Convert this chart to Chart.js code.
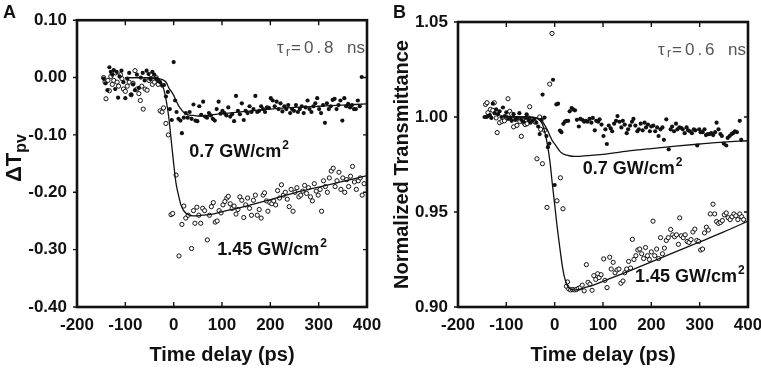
<!DOCTYPE html>
<html>
<head>
<meta charset="utf-8">
<script src="https://cdn.jsdelivr.net/npm/chart.js@4.4.1/dist/chart.umd.min.js"></script>
<style>
  html, body { margin: 0; padding: 0; background: #fff; }
  #wrap { position: relative; width: 761px; height: 371px; overflow: hidden; }
  canvas { position: absolute; top: 0; }
</style>
</head>
<body>
<div id="wrap">
  <canvas id="chartA" width="395" height="371" style="left:0"></canvas>
  <canvas id="chartB" width="395" height="371" style="left:380px"></canvas>
</div>
<script>
// ---------- panel A : photovoltaic signal ----------
const timeA_low = [-145,-141,-137,-133,-130,-127,-124,-121,-118,-115,-112,-108,-104,-100,-96,-92,-88,-84,-80,-76,-72,-68,-64,-60,-56,-52,-48,-44,-40,-36,-32,-28,-24,-20,-16,-12,-8,-4,0,3,6,10,14,17,21,25,29,33,37,41,45,49,53,57,61,65,69,73,77,81,85,89,93,97,101,105,109,113,117,121,125,129,133,137,141,145,149,153,157,161,165,169,173,177,181,185,189,193,197,201,205,209,213,217,221,225,229,233,237,241,245,249,253,257,261,265,269,273,277,281,285,289,293,297,301,305,309,313,317,321,325,329,333,337,341,345,349,353,357,361,365,369,373,377,381,385,389];
const dtA_low = [-0.002,-0.010,-0.022,0.018,0.010,0.005,0.013,-0.020,0.010,-0.035,0.002,0.012,-0.008,-0.036,-0.002,0.008,-0.030,-0.012,-0.022,0.005,-0.018,0.000,0.008,-0.005,0.012,0.006,-0.003,0.010,0.005,-0.002,-0.005,-0.008,-0.014,-0.013,-0.033,-0.025,-0.055,-0.074,0.027,-0.040,-0.060,-0.072,-0.075,-0.097,-0.070,-0.062,-0.070,-0.060,-0.072,-0.047,-0.075,-0.076,-0.050,-0.065,-0.042,-0.068,-0.070,-0.062,-0.066,-0.072,-0.075,-0.055,-0.042,-0.063,-0.058,-0.062,-0.066,-0.052,-0.068,-0.064,-0.076,-0.032,-0.058,-0.064,-0.045,-0.074,-0.058,-0.062,-0.050,-0.060,-0.055,-0.032,-0.060,-0.058,-0.050,-0.055,-0.060,-0.052,-0.053,-0.036,-0.040,-0.050,-0.042,-0.055,-0.045,-0.059,-0.050,-0.055,-0.048,-0.062,-0.055,-0.058,-0.048,-0.060,-0.055,-0.050,-0.062,-0.052,-0.040,-0.055,-0.060,-0.050,-0.045,-0.036,-0.055,-0.062,-0.048,-0.079,-0.045,-0.055,-0.050,-0.039,-0.037,-0.055,-0.048,-0.040,-0.075,-0.036,-0.050,-0.046,-0.052,-0.048,-0.055,-0.055,-0.040,-0.050,0.001];

const timeA_high = [-145,-142,-140,-136,-133,-130,-127,-124,-120,-117,-114,-110,-107,-104,-100,-96,-92,-88,-84,-80,-76,-72,-69,-66,-63,-59,-55,-51,-47,-44,-40,-36,-32,-28,-24,-21,-16,-11,-5.5,-2,5,11,17,21,25,30,37,41,44,48,52,56,60,64,69.6,74,78,82,86,90,94,98,102,106,110,113,117,121,125,129,133,137,141,145,149,153,157,161,165,169,173,177,181,185,188,192,195,199,203,207,211,215,219,223,227,231,235,239,243,247,251,255,259,263,267,271,275,279,283,287,291,295,299,303,306,310,314,318,322,326,330,334,338,342,346,350,354,358,362,366,370,374,378,382,386,390,394];
const dtA_high = [0.000,-0.008,-0.037,-0.005,-0.023,0.002,-0.012,-0.005,0.008,-0.008,-0.015,0.005,-0.002,-0.020,-0.024,-0.015,-0.008,-0.030,-0.010,0.012,-0.020,-0.028,-0.040,-0.015,-0.055,-0.020,-0.022,-0.005,0.005,-0.012,-0.008,0.000,-0.012,-0.058,-0.060,-0.053,-0.080,-0.100,-0.239,-0.237,-0.170,-0.311,-0.256,-0.224,-0.245,-0.240,-0.298,-0.232,-0.254,-0.226,-0.240,-0.254,-0.228,-0.232,-0.283,-0.240,-0.225,-0.218,-0.252,-0.250,-0.232,-0.236,-0.222,-0.216,-0.210,-0.207,-0.220,-0.228,-0.224,-0.238,-0.230,-0.208,-0.214,-0.244,-0.222,-0.210,-0.228,-0.240,-0.214,-0.205,-0.240,-0.230,-0.245,-0.205,-0.201,-0.215,-0.233,-0.218,-0.220,-0.215,-0.222,-0.197,-0.210,-0.187,-0.205,-0.200,-0.212,-0.225,-0.195,-0.233,-0.200,-0.192,-0.208,-0.205,-0.198,-0.188,-0.202,-0.192,-0.208,-0.215,-0.185,-0.198,-0.205,-0.195,-0.233,-0.180,-0.190,-0.200,-0.175,-0.163,-0.158,-0.190,-0.180,-0.165,-0.195,-0.175,-0.200,-0.178,-0.190,-0.172,-0.155,-0.182,-0.195,-0.180,-0.175,-0.205,-0.185];

// fitted curves
const fitTime = [-100,-60,-40,-30,-25,-20,-15,-10,-5,0,5,10,15,20,25,30,40,50,60,80,100,150,200,250,300,350,400];
const fitA_low = [0,0,-0.0005,-0.002,-0.003,-0.005,-0.009,-0.018,-0.024,-0.031,-0.040,-0.049,-0.055,-0.060,-0.063,-0.065,-0.066,-0.067,-0.067,-0.065,-0.063,-0.059,-0.055,-0.052,-0.050,-0.048,-0.046];
const fitA_high = [0,0,-0.002,-0.006,-0.010,-0.022,-0.042,-0.070,-0.110,-0.150,-0.185,-0.205,-0.222,-0.231,-0.236,-0.239,-0.241,-0.241,-0.240,-0.238,-0.234,-0.224,-0.213,-0.201,-0.191,-0.181,-0.171];

// ---------- panel B : normalized transmittance ----------
const timeB_low = [-145,-141,-138,-134,-131,-128,-124,-121,-117,-114,-110,-107,-103,-100,-96,-92,-89,-85,-81,-77,-73,-69,-65,-61,-58,-54,-50,-46,-42,-38,-34,-31,-27,-25,-21,-17,-14,-11,-3.4,0,3.6,7,11,14,18,21,24,28,31,35,38,42,46,50,53,57,61,64,68,72,76,79,83,86,90,93,97,101,105,108,112,116,119,123,127,130,134,138,141,145,149,152,156,160,163,167,171,174,178,182,186,189,193,197,200,204,208,212,215,219,223,226,231,236,240,243,247,251,254,258,262,265,269,273,276,280,284,288,291,295,299,302,306,310,313,317,321,324,328,332,335,339,343,346,350,355,358,362,366,369,373,377,383,386];
const trB_low = [1.000,1.000,1.0005,1.001,0.9995,1.007,1.002,1.004,1.0015,1.003,1.000,1.005,1.0005,1.0025,0.999,0.9995,0.998,1.0015,0.9985,0.9995,1.002,0.9985,0.9975,0.9995,1.0014,0.9985,0.997,0.998,0.999,0.997,0.995,0.991,0.9985,1.0118,0.9997,0.990,0.9841,0.986,1.0196,0.9642,1.0066,1.007,0.9929,0.992,0.9964,0.9975,0.998,0.998,1.003,1.0047,1.004,1.0035,0.9985,0.995,0.999,0.9985,0.9975,0.998,0.9975,0.999,0.997,0.9995,0.993,0.998,0.9975,0.9988,0.996,0.990,0.9935,0.9858,0.9955,0.994,0.9925,0.9965,0.998,1.0005,0.9975,0.9945,0.998,0.996,0.9915,0.9935,0.9955,0.9975,0.999,0.9955,0.9925,0.9935,0.9965,0.993,0.997,0.9945,0.996,0.9925,0.995,0.9955,0.9925,0.9945,0.990,0.9935,0.9945,0.988,0.9988,0.983,0.9935,0.995,0.9925,0.9965,0.9935,0.9945,0.9942,0.9935,0.9915,0.9945,0.993,0.9925,0.9915,0.9935,0.993,0.985,0.9935,0.992,0.992,0.9935,0.9905,0.991,0.991,0.9915,0.9905,0.992,0.997,0.9935,0.991,0.990,0.986,0.985,0.989,0.990,0.991,0.9915,0.9925,0.992,0.998,0.988];

const timeB_high = [-143,-140,-138,-133,-128,-125,-121,-119,-114,-109,-104,-100,-96.6,-93,-89,-85,-82,-78,-74,-72,-69,-64,-61,-57,-54,-51.7,-48,-45,-41,-36.6,-31,-29,-25.4,-21,-15.9,-10.3,-5.5,4.8,11.9,17.2,24.3,26.6,29,33,37,41,45,49,53,57,61,65.6,69,73,77.3,81,85,89,92,96,101.4,104,108.3,113.9,117,121,125,129,133,137,141.4,145,149,153,157,160.8,164,168,172,176,180,184,188,192,196,200,203.5,207,211,215,219,223,227,231,235,240,244,248,252,256,258.7,262,266,270,274,278,282,286,290,294,298,302,306,310,314,318,322,327.6,331,335,339,343,347,351,355,359,363,367,371,375,379,383,387,391];
const trB_high = [1.0066,1.0075,1.0023,1.004,1.0035,1.0075,0.9995,0.9918,0.997,0.9977,0.998,1.000,1.0096,1.003,1.0015,0.9948,0.999,0.9956,0.9985,0.9977,0.9898,0.997,0.996,0.9965,0.9995,1.0054,0.998,0.9988,0.9974,0.978,1.000,0.9935,0.9754,0.993,0.9524,1.0173,1.044,0.9559,0.968,0.9517,0.9109,0.9132,0.9095,0.9090,0.9092,0.9090,0.9092,0.9098,0.9102,0.9115,0.9085,0.9223,0.9130,0.9120,0.9088,0.9165,0.9145,0.9175,0.9155,0.9170,0.9253,0.9140,0.9102,0.9262,0.9200,0.9235,0.9180,0.9195,0.9200,0.9125,0.9137,0.9180,0.9200,0.9240,0.9205,0.9356,0.9250,0.9270,0.9300,0.9305,0.9280,0.9255,0.9313,0.9270,0.9250,0.9290,0.9452,0.9270,0.9305,0.9255,0.9365,0.9280,0.9310,0.9350,0.9365,0.9408,0.9380,0.9370,0.9380,0.9330,0.9469,0.9375,0.9365,0.9380,0.9345,0.9340,0.9355,0.9395,0.9410,0.9350,0.9345,0.9300,0.9305,0.9390,0.9420,0.9405,0.9490,0.9541,0.9490,0.9450,0.9440,0.9445,0.9455,0.9485,0.9495,0.9470,0.9460,0.9475,0.9490,0.9480,0.9460,0.9490,0.9475,0.9460];

const fitB_low = [1,1,0.9997,0.9988,0.9975,0.9955,0.9931,0.9903,0.9876,0.9858,0.9840,0.9822,0.9810,0.9803,0.9799,0.9796,0.9793,0.9793,0.9795,0.9799,0.9803,0.9820,0.9834,0.9847,0.9858,0.9868,0.9875];
const fitB_high = [1,1,0.9995,0.998,0.9960,0.9915,0.9855,0.9770,0.9652,0.9540,0.9425,0.9325,0.9230,0.9160,0.9120,0.9100,0.9090,0.9092,0.9100,0.9115,0.9135,0.9185,0.9237,0.9290,0.9342,0.9395,0.9452];

const FONT = "'Liberation Sans', Arial, Helvetica, sans-serif";
const INK = '#111';

function pairs(xs, ys) {
    return xs.map((x, i) => ({ x: x, y: ys[i] }));
}

function fitSet(ys) {
    return {
        type: 'line',
        data: pairs(fitTime, ys),
        borderColor: INK,
        borderWidth: 1.3,
        pointRadius: 0,
        cubicInterpolationMode: 'monotone',
        fill: false
    };
}

function dotSet(xs, ys, hollow) {
    return {
        type: 'scatter',
        data: pairs(xs, ys),
        pointRadius: 2.1,
        pointBackgroundColor: hollow ? '#fff' : INK,
        pointBorderColor: INK,
        pointBorderWidth: hollow ? 1 : 0
    };
}

// frame + tick marks (left ticks outside, the rest inside)
const frameTicks = {
    id: 'frameTicks',
    afterDraw(chart) {
        const { ctx, chartArea: a, scales: { x, y } } = chart;
        ctx.save();
        ctx.strokeStyle = INK;
        ctx.lineWidth = 1.4;
        ctx.beginPath();
        x.ticks.forEach(t => {
            const px = x.getPixelForValue(t.value);
            ctx.moveTo(px, a.bottom); ctx.lineTo(px, a.bottom - 5);
            ctx.moveTo(px, a.top); ctx.lineTo(px, a.top + 5);
        });
        y.ticks.forEach(t => {
            const py = y.getPixelForValue(t.value);
            ctx.moveTo(a.left, py); ctx.lineTo(a.left - 4, py);
            ctx.moveTo(a.right, py); ctx.lineTo(a.right - 4, py);
        });
        ctx.stroke();
        ctx.lineWidth = 2.6;
        ctx.strokeRect(a.left, a.top, a.right - a.left, a.bottom - a.top);
        ctx.restore();
    }
};

// panel letter, tau label and fluence labels
function labelsPlugin(opt) {
    return {
        id: 'labels' + opt.letter,
        afterDraw(chart) {
            const { ctx, chartArea: a, scales: { x, y } } = chart;
            ctx.save();
            ctx.fillStyle = INK;
            ctx.textBaseline = 'alphabetic';
            ctx.font = 'bold 18px ' + FONT;
            ctx.fillText(opt.letter, opt.letterX, 18);

            // tau_r = ... ns
            const R = a.right, ty = a.top + 28;
            ctx.fillStyle = '#555';
            ctx.textBaseline = 'middle';
            ctx.font = '17px ' + FONT;
            ctx.fillText('τ', R - 90, ty);
            ctx.font = '12px ' + FONT;
            ctx.fillText('r', R - 81, ty + 4);
            ctx.font = '17px ' + FONT;
            ctx.letterSpacing = '3px';
            ctx.fillText('=' + opt.tau, R - 76, ty);
            ctx.letterSpacing = '0px';
            ctx.textAlign = 'right';
            ctx.fillText('ns', R - 2, ty);

            // fluence labels, "GW/cm" with a raised 2
            ctx.fillStyle = INK;
            ctx.textAlign = 'left';
            opt.notes.forEach(n => {
                const px = x.getPixelForValue(n.x), py = y.getPixelForValue(n.y);
                ctx.font = 'bold 18px ' + FONT;
                ctx.fillText(n.text, px, py);
                const w = ctx.measureText(n.text).width;
                ctx.font = 'bold 12px ' + FONT;
                ctx.fillText('2', px + w + 1, py - 6);
            });

            if (opt.deltaTitle) {
                ctx.translate(13, 158);
                ctx.rotate(-Math.PI / 2);
                ctx.font = 'bold 22px ' + FONT;
                const w1 = ctx.measureText('ΔT').width;
                ctx.font = 'bold 16px ' + FONT;
                const w2 = ctx.measureText('pv').width;
                const x0 = -(w1 + w2) / 2;
                ctx.textBaseline = 'alphabetic';
                ctx.font = 'bold 22px ' + FONT;
                ctx.fillText('ΔT', x0, 8);
                ctx.font = 'bold 16px ' + FONT;
                ctx.fillText('pv', x0 + w1, 13);
            }
            ctx.restore();
        }
    };
}

function makeOptions(cfg) {
    return {
        responsive: false,
        animation: false,
        layout: { padding: { top: cfg.top, right: cfg.right, left: 0, bottom: 0 } },
        plugins: { legend: { display: false }, tooltip: { enabled: false } },
        scales: {
            x: {
                type: 'linear',
                min: -200, max: 400,
                grid: { display: false, drawTicks: false },
                border: { display: false },
                ticks: {
                    stepSize: 100,
                    padding: 8,
                    maxRotation: 0,
                    autoSkip: false,
                    color: INK,
                    font: { family: FONT, size: 17, weight: 'bold' },
                    callback: v => String(v)
                },
                title: {
                    display: true,
                    text: 'Time delay (ps)',
                    color: INK,
                    font: { family: FONT, size: 20, weight: 'bold' },
                    padding: { top: 0, bottom: 4 }
                },
                afterFit(scale) { scale.height = 64; }
            },
            y: {
                type: 'linear',
                min: cfg.ymin, max: cfg.ymax,
                grid: { display: false, drawTicks: false },
                border: { display: false },
                ticks: {
                    stepSize: cfg.ystep,
                    padding: 10,
                    color: INK,
                    font: { family: FONT, size: 17, weight: 'bold' },
                    callback: v => v.toFixed(2)
                },
                title: {
                    display: !!cfg.ytitle,
                    text: cfg.ytitle || '',
                    color: INK,
                    font: { family: FONT, size: 20, weight: 'bold' },
                    padding: { top: 10, bottom: 0 }
                },
                afterFit(scale) { scale.width = cfg.yWidth; }
            }
        }
    };
}

new Chart(document.getElementById('chartA'), {
    type: 'scatter',
    data: {
        datasets: [
            fitSet(fitA_low),
            fitSet(fitA_high),
            dotSet(timeA_low, dtA_low, false),
            dotSet(timeA_high, dtA_high, true)
        ]
    },
    options: makeOptions({ top: 20, right: 28, ymin: -0.4, ymax: 0.1, ystep: 0.1, yWidth: 77 }),
    plugins: [frameTicks, labelsPlugin({
        letter: 'A', letterX: 3, tau: '0.8', deltaTitle: true,
        notes: [
            { text: '0.7 GW/cm', x: 32, y: -0.129 },
            { text: '1.45 GW/cm', x: 90, y: -0.300 }
        ]
    })]
});

new Chart(document.getElementById('chartB'), {
    type: 'scatter',
    data: {
        datasets: [
            fitSet(fitB_low),
            fitSet(fitB_high),
            dotSet(timeB_low, trB_low, false),
            dotSet(timeB_high, trB_high, true)
        ]
    },
    options: makeOptions({ top: 22, right: 27, ymin: 0.9, ymax: 1.05, ystep: 0.05, yWidth: 78, ytitle: 'Normalized Transmittance' }),
    plugins: [frameTicks, labelsPlugin({
        letter: 'B', letterX: 13, tau: '0.6', deltaTitle: false,
        notes: [
            { text: '0.7 GW/cm', x: 58, y: 0.9728 },
            { text: '1.45 GW/cm', x: 166, y: 0.9157 }
        ]
    })]
});
</script>
</body>
</html>
